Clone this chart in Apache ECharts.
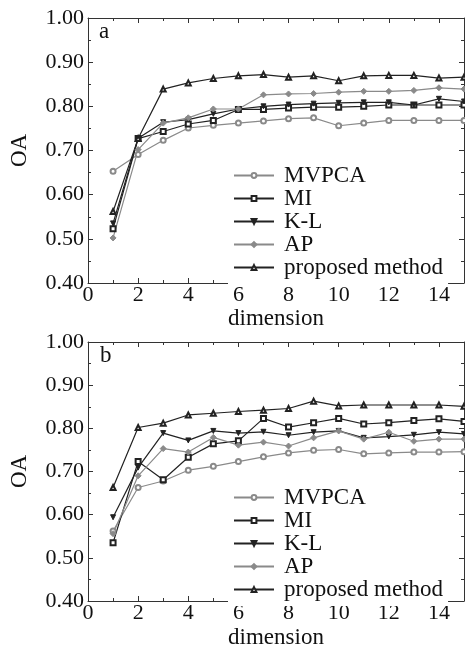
<!DOCTYPE html>
<html><head><meta charset="utf-8">
<script src="https://cdn.jsdelivr.net/npm/echarts@6/dist/echarts.min.js"></script>
<style>html,body{margin:0;padding:0;background:#fff}#c{width:465px;height:650px}</style>
</head><body><div id="c"></div>
<script>
const dims = [1,2,3,4,5,6,7,8,9,10,11,12,13,14,15];
const names = ['MVPCA','MI','K-L','AP','proposed method'];
const yTicks = ['0.40','0.50','0.60','0.70','0.80','0.90','1.00'];
// panel a
const mvpcaA = [0.653,0.691,0.723,0.751,0.757,0.762,0.767,0.772,0.774,0.756,0.762,0.768,0.768,0.768,0.768];
const miA    = [0.523,0.727,0.743,0.760,0.768,0.793,0.793,0.796,0.798,0.798,0.800,0.803,0.803,0.803,0.803];
const klA    = [0.535,0.728,0.764,0.770,0.783,0.794,0.800,0.804,0.806,0.808,0.809,0.809,0.803,0.817,0.811];
const apA    = [0.502,0.702,0.762,0.774,0.794,0.794,0.826,0.828,0.829,0.832,0.834,0.834,0.836,0.842,0.839];
const propA  = [0.562,0.727,0.839,0.853,0.863,0.869,0.872,0.866,0.869,0.858,0.869,0.870,0.870,0.864,0.866];
// panel b
const mvpcaB = [0.562,0.663,0.678,0.703,0.712,0.723,0.734,0.743,0.749,0.751,0.741,0.743,0.745,0.745,0.746];
const miB    = [0.535,0.723,0.681,0.733,0.764,0.771,0.823,0.803,0.813,0.823,0.810,0.813,0.818,0.822,0.816];
const klB    = [0.594,0.709,0.789,0.772,0.794,0.789,0.792,0.784,0.791,0.794,0.778,0.781,0.785,0.791,0.787];
const apB    = [0.556,0.690,0.753,0.745,0.779,0.761,0.768,0.759,0.778,0.794,0.775,0.791,0.770,0.775,0.775];
const propB  = [0.663,0.802,0.812,0.831,0.835,0.839,0.842,0.846,0.863,0.852,0.854,0.854,0.854,0.854,0.851];

const FONT = '"Liberation Serif", "Times New Roman", serif';
const DARK = '#222', GRAY = '#8a8a8a', AX = '#333';
const pair = ys => dims.map((d,i)=>[d, ys[i]]);

function xAx(grid, pos, showLabel, nameGap){
  return {type:'value', gridIndex:grid, position:pos, min:0, max:15, interval:2,
    name: showLabel ? 'dimension' : '', nameLocation:'middle', nameGap:nameGap,
    nameTextStyle:{fontFamily:FONT, fontSize:23, color:'#111'},
    axisLine:{show:true, onZero:false, lineStyle:{color:AX, width:1}},
    axisTick:{show:true, inside:true, length:5, lineStyle:{color:AX}},
    minorTick:{show:true, splitNumber:2, length:3, lineStyle:{color:AX}},
    splitLine:{show:false},
    axisLabel:{show:showLabel, showMaxLabel:false, margin:1, fontFamily:FONT, fontSize:22, color:'#111',
      formatter: v => String(v)}};
}
function yAx(grid, pos, showLabel){
  return {type:'value', gridIndex:grid, position:pos, min:0.4, max:1.0, interval:0.1,
    name: showLabel ? 'OA' : '', nameLocation:'middle', nameGap:57, nameRotate:90,
    nameTextStyle:{fontFamily:FONT, fontSize:23, color:'#111'},
    axisLine:{show:true, onZero:false, lineStyle:{color:AX, width:1}},
    axisTick:{show:true, inside:true, length:5, lineStyle:{color:AX}},
    minorTick:{show:true, splitNumber:2, length:3, lineStyle:{color:AX}},
    splitLine:{show:false},
    axisLabel:{show:showLabel, margin:4, fontFamily:FONT, fontSize:22, color:'#111',
      formatter: v => yTicks[Math.round((v-0.4)*10)]}};
}
const styles = [
  {color:GRAY, symbol:'emptyCircle', rot:0},
  {color:DARK, symbol:'emptyRect', rot:0},
  {color:DARK, symbol:'triangle', rot:180},
  {color:GRAY, symbol:'diamond', rot:0},
  {color:DARK, symbol:'emptyTriangle', rot:0}
];
function mk(i, data, xi, yi){
  const s = styles[i];
  return {type:'line', name:names[i], xAxisIndex:xi, yAxisIndex:yi, data:pair(data),
    symbol:s.symbol, symbolRotate:s.rot, symbolSize:s.symbol==='diamond'?6:5,
    itemStyle:{color:s.color, borderColor:s.color, borderWidth:1},
    lineStyle:{color:s.color, width:1.2}, animation:false};
}
function legend(top){
  return {data:names, orient:'vertical', left:228, top:top, itemWidth:40, itemHeight:6, itemGap:0,
    backgroundColor:'#fff', padding:5,
    textStyle:{fontFamily:FONT, fontSize:23, color:'#111', lineHeight:21, padding:[0,0,0,5]}};
}
const chart = echarts.init(document.getElementById('c'), null, {renderer:'canvas'});
chart.setOption({
  backgroundColor:'#fff',
  animation:false,
  title:[
    {text:'a', left:99, top:20, padding:0, textStyle:{fontFamily:FONT, fontSize:23, fontWeight:'normal', color:'#111'}},
    {text:'b', left:100, top:344, padding:0, textStyle:{fontFamily:FONT, fontSize:23, fontWeight:'normal', color:'#111'}}
  ],
  grid:[
    {left:87, top:18, width:377, height:265},
    {left:87, top:342, width:377, height:263}
  ],
  xAxis:[xAx(0,'bottom',true,24), xAx(0,'top',false,0), xAx(1,'bottom',true,25), xAx(1,'top',false,0)],
  yAxis:[yAx(0,'left',true), yAx(0,'right',false), yAx(1,'left',true), yAx(1,'right',false)],
  legend:[legend(159), legend(481)],
  series:[
    mk(0,mvpcaA,0,0), mk(1,miA,0,0), mk(2,klA,0,0), mk(3,apA,0,0), mk(4,propA,0,0),
    mk(0,mvpcaB,2,2), mk(1,miB,2,2), mk(2,klB,2,2), mk(3,apB,2,2), mk(4,propB,2,2)
  ]
});
</script></body></html>
